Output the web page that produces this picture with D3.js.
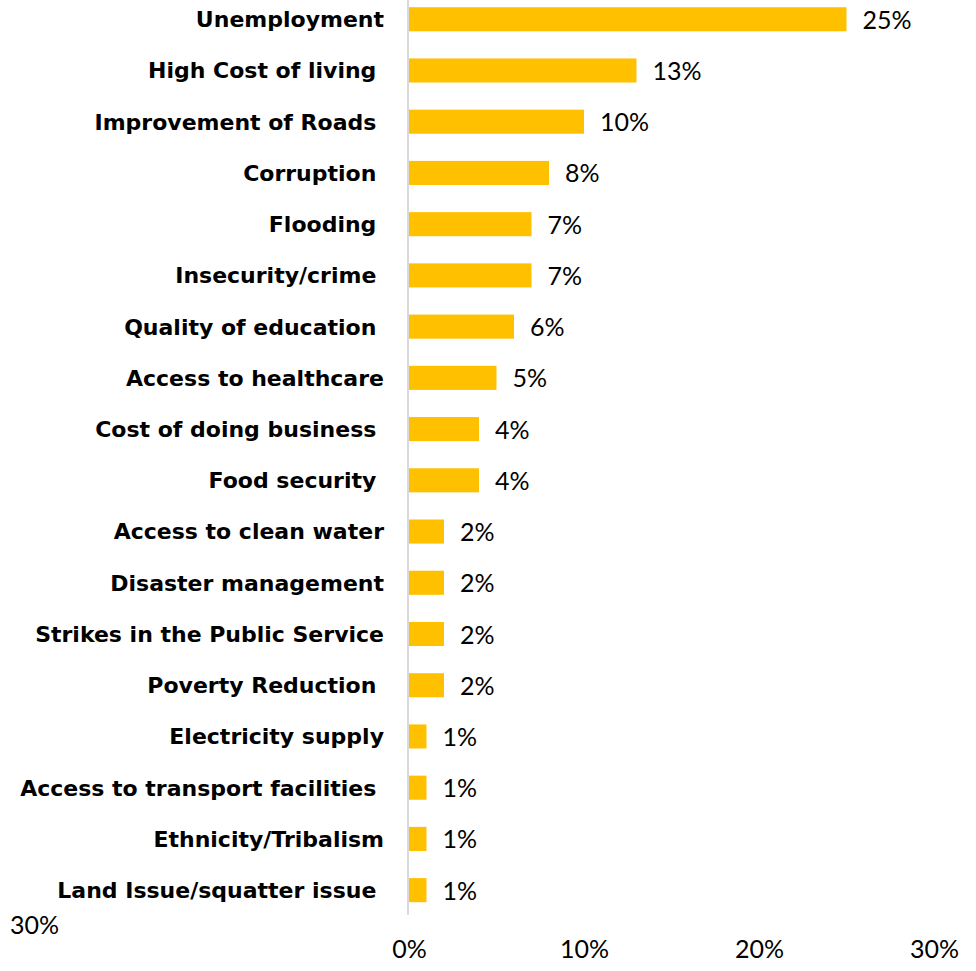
<!DOCTYPE html>
<html><head><meta charset="utf-8">
<script src="https://cdn.jsdelivr.net/npm/d3@7"></script>
<style>body{margin:0;background:#fff}svg{display:block}</style>
</head><body>
<script>
const categories = ["Unemployment","High Cost of living ","Improvement of Roads ","Corruption ","Flooding ","Insecurity/crime ","Quality of education ","Access to healthcare","Cost of doing business ","Food security ","Access to clean water","Disaster management","Strikes in the Public Service","Poverty Reduction ","Electricity supply","Access to transport facilities ","Ethnicity/Tribalism","Land Issue/squatter issue "];
const values = [25,13,10,8,7,7,6,5,4,4,2,2,2,2,1,1,1,1];
const valueLabels = ["25%","13%","10%","8%","7%","7%","6%","5%","4%","4%","2%","2%","2%","2%","1%","1%","1%","1%"];
const ticks = [0,10,20,30];

const W=976,H=971;
const svg=d3.select("body").append("svg").attr("width",W).attr("height",H);
const x=d3.scaleLinear().domain([0,30]).range([409,934]);
const y=d3.scaleBand().domain(categories).range([-5.6,915]).paddingInner(0.53).paddingOuter(0.25);

svg.selectAll("rect.bar").data(values).join("rect").attr("class","bar")
  .attr("x",x(0)).attr("y",(d,i)=>y(categories[i])).attr("width",d=>x(d)-x(0)).attr("height",y.bandwidth())
  .attr("fill","#FFC000");

svg.append("line").attr("x1",408).attr("x2",408).attr("y1",0).attr("y2",915).attr("stroke","#d9d9d9").attr("stroke-width",2);

svg.selectAll("text.cat").data(categories).join("text").attr("class","cat")
  .attr("x",384).attr("y",d=>y(d)+y.bandwidth()/2).attr("dy","0.36em").attr("text-anchor","end")
  .style("white-space","pre").attr("font-family","DejaVu Sans").attr("font-weight","bold").attr("font-size",22).attr("fill","#000")
  .text(d=>d);

svg.selectAll("text.val").data(values).join("text").attr("class","val")
  .attr("x",d=>x(d)+16).attr("y",(d,i)=>y(categories[i])+y.bandwidth()/2).attr("dy","0.38em")
  .attr("font-family","Lato").attr("font-size",25).attr("fill","#000").text((d,i)=>valueLabels[i]);

const ax=svg.append("g").attr("transform","translate(0,935)")
  .call(d3.axisBottom(x).tickValues(ticks).tickFormat(d=>d+"%").tickSize(0).tickPadding(0));
ax.select(".domain").remove();
ax.selectAll("text").attr("font-family","Lato").attr("font-size",25).attr("fill","#000").attr("dy","0.9em");

svg.append("text").attr("x",10).attr("y",934).attr("font-family","Lato").attr("font-size",25).attr("fill","#000").text(ticks[3]+"%");
</script>
</body></html>
